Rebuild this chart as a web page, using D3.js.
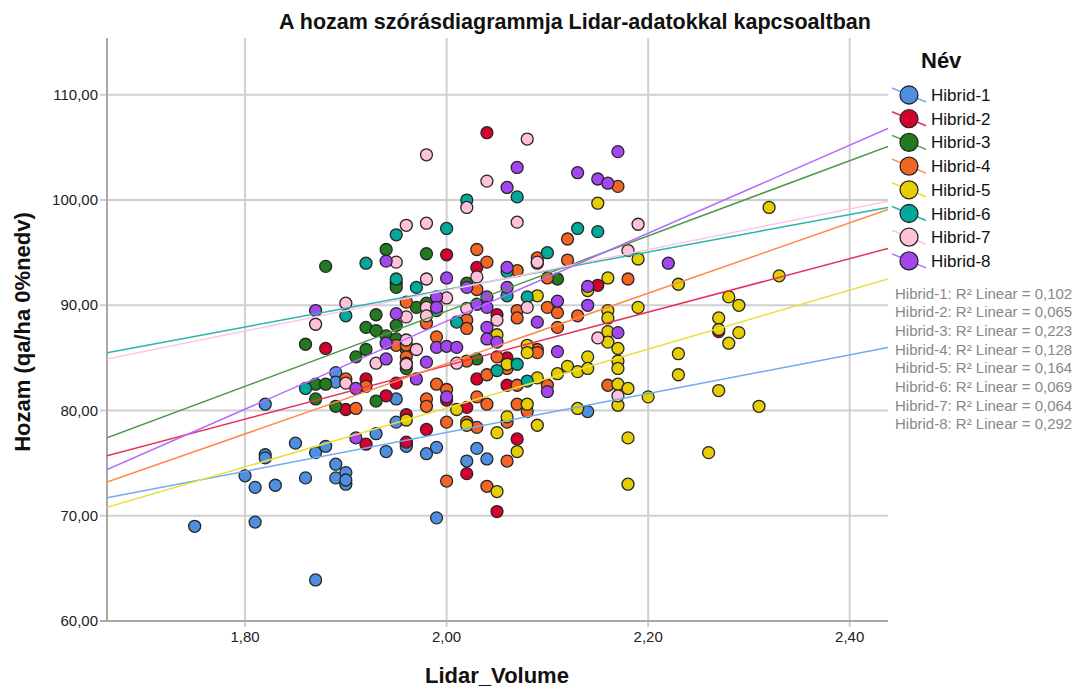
<!DOCTYPE html>
<html><head><meta charset="utf-8">
<script src="https://cdn.jsdelivr.net/npm/d3@7/dist/d3.min.js"></script>
<style>body{margin:0;background:#fff}text{font-family:"Liberation Sans",Arial,sans-serif}</style>
</head><body><svg id="c" width="1077" height="688"></svg>
<script>
const seriesNames = ["Hibrid-1","Hibrid-2","Hibrid-3","Hibrid-4","Hibrid-5","Hibrid-6","Hibrid-7","Hibrid-8"];
const pointColors = ["#4f8fe0","#d5002d","#237a1f","#f26522","#e6cf00","#00a99a","#ffc0da","#a346ef"];
const lineColors  = ["#72aaf2","#e8305c","#4c9a48","#ff874a","#ebde3e","#26b5ab","#ffc6e2","#b468ff"];
const r2Values = ["0,102","0,065","0,223","0,128","0,164","0,069","0,064","0,292"];

const hibrid1 = [[1.75,69.0],[1.80,73.8],[1.81,72.7],[1.81,69.4],[1.82,80.6],[1.82,75.8],[1.82,75.5],[1.83,72.9],[1.85,76.9],[1.86,73.6],[1.87,76.0],[1.87,63.9],[1.88,76.6],[1.89,83.6],[1.89,82.7],[1.89,74.9],[1.89,73.6],[1.90,74.1],[1.90,73.0],[1.90,73.4],[1.93,77.8],[1.94,76.1],[1.95,81.1],[1.95,78.9],[1.96,76.9],[1.96,76.6],[1.98,75.9],[1.99,76.5],[1.99,69.8],[2.02,75.2],[2.03,76.4],[2.04,75.4],[2.14,79.9]];
const hibrid2 = [[1.88,85.9],[1.90,80.1],[1.92,83.0],[1.92,76.8],[1.94,81.4],[1.95,82.6],[1.96,79.6],[1.96,77.0],[1.98,78.2],[2.00,94.8],[2.00,81.0],[2.02,80.3],[2.02,74.0],[2.03,93.6],[2.03,83.0],[2.04,106.4],[2.05,89.1],[2.05,70.4],[2.06,85.0],[2.06,82.4],[2.07,77.3],[2.15,91.9],[2.27,87.5]];
const hibrid3 = [[1.86,86.3],[1.87,82.5],[1.87,81.1],[1.88,93.7],[1.88,82.5],[1.89,80.4],[1.91,85.1],[1.92,87.9],[1.92,85.8],[1.93,89.1],[1.93,87.6],[1.93,80.9],[1.94,95.3],[1.94,87.1],[1.95,92.1],[1.95,91.7],[1.95,88.1],[1.95,86.8],[1.96,85.8],[1.96,84.0],[1.97,89.8],[1.98,94.9],[1.98,90.2],[2.02,92.1],[2.03,84.9],[2.11,92.5]];
const hibrid4 = [[1.90,83.0],[1.91,80.2],[1.92,82.3],[1.95,86.2],[1.96,90.3],[1.96,86.2],[1.96,85.1],[1.96,84.5],[1.98,88.3],[1.98,81.1],[1.98,80.4],[1.99,87.0],[1.99,82.5],[2.00,82.0],[2.00,78.9],[2.00,73.3],[2.02,88.6],[2.02,87.8],[2.02,84.7],[2.02,78.9],[2.03,95.3],[2.03,91.5],[2.03,81.3],[2.03,78.4],[2.04,94.1],[2.04,83.4],[2.04,80.6],[2.04,72.8],[2.05,85.1],[2.06,84.0],[2.06,78.9],[2.06,75.2],[2.07,93.3],[2.07,89.5],[2.07,88.8],[2.07,82.4],[2.07,80.6],[2.08,79.9],[2.09,94.5],[2.09,94.0],[2.09,85.8],[2.09,85.5],[2.10,92.6],[2.10,89.8],[2.10,82.4],[2.11,89.3],[2.11,87.9],[2.12,96.3],[2.12,94.3],[2.13,89.0],[2.16,82.4],[2.17,101.3],[2.18,92.5]];
const hibrid5 = [[1.96,79.1],[2.01,80.1],[2.02,78.6],[2.05,87.2],[2.05,77.9],[2.05,72.3],[2.06,84.4],[2.06,79.4],[2.07,76.1],[2.08,86.2],[2.08,85.5],[2.08,80.6],[2.09,90.9],[2.09,83.1],[2.09,78.6],[2.11,83.5],[2.12,84.2],[2.13,83.7],[2.13,80.2],[2.14,91.4],[2.14,85.1],[2.14,84.0],[2.15,99.7],[2.16,92.6],[2.16,89.5],[2.16,88.8],[2.16,87.5],[2.16,86.5],[2.17,85.9],[2.17,84.7],[2.17,84.0],[2.17,82.5],[2.17,80.5],[2.18,82.1],[2.18,77.4],[2.18,73.0],[2.19,94.4],[2.19,89.8],[2.20,81.3],[2.23,92.0],[2.23,85.4],[2.23,83.4],[2.26,76.0],[2.27,88.8],[2.27,87.7],[2.27,81.9],[2.28,90.8],[2.28,86.4],[2.29,90.0],[2.29,87.4],[2.31,80.4],[2.32,99.3],[2.33,92.8]];
const hibrid6 = [[1.86,82.1],[1.90,89.0],[1.92,94.0],[1.95,96.7],[1.95,92.5],[1.97,91.7],[1.99,89.5],[2.00,97.3],[2.01,88.4],[2.02,100.0],[2.05,83.8],[2.06,93.2],[2.06,90.9],[2.07,100.3],[2.07,84.4],[2.08,90.8],[2.08,82.8],[2.10,95.0],[2.13,97.3],[2.15,97.0]];
const hibrid7 = [[1.87,88.2],[1.90,90.2],[1.90,82.6],[1.93,84.5],[1.95,94.1],[1.96,97.6],[1.96,88.9],[1.96,86.7],[1.96,84.4],[1.97,85.8],[1.98,104.3],[1.98,97.8],[1.98,92.5],[1.98,89.8],[1.98,89.0],[2.00,90.7],[2.01,84.5],[2.02,99.3],[2.02,89.7],[2.03,92.7],[2.04,101.8],[2.05,88.6],[2.07,97.9],[2.08,105.8],[2.08,89.8],[2.09,94.1],[2.15,86.9],[2.17,81.4],[2.18,95.2],[2.19,97.7]];
const hibrid8 = [[1.87,89.5],[1.91,82.1],[1.91,77.4],[1.94,94.2],[1.94,86.4],[1.94,84.9],[1.95,89.2],[1.97,83.0],[1.98,84.6],[1.99,90.8],[1.99,89.8],[1.99,86.0],[2.00,92.6],[2.00,86.1],[2.00,81.3],[2.01,86.0],[2.02,91.7],[2.03,90.1],[2.04,90.8],[2.04,89.8],[2.04,87.9],[2.04,86.8],[2.05,86.5],[2.06,101.2],[2.06,93.6],[2.06,91.7],[2.07,103.1],[2.09,88.4],[2.10,81.8],[2.11,90.4],[2.11,85.6],[2.13,102.6],[2.14,91.8],[2.14,90.0],[2.15,102.0],[2.16,101.6],[2.17,104.6],[2.17,87.4],[2.22,94.0]];
const seriesData = [hibrid1,hibrid2,hibrid3,hibrid4,hibrid5,hibrid6,hibrid7,hibrid8];

// fit line values at the left and right ends of the x range
const fitX = [1.663, 2.438];
const fitLeft  = [71.7, 75.7, 77.4, 73.2, 70.8, 85.5, 84.9, 74.4];
const fitRight = [86.0, 95.4, 105.1, 99.1, 92.5, 99.3, 99.9, 106.8];

const xTicks = [1.8, 2.0, 2.2, 2.4];
const yTicks = [60, 70, 80, 90, 100, 110];

const svg = d3.select("#c");
const x = d3.scaleLinear().domain([1.663, 2.438]).range([107, 888]);
const y = d3.scaleLinear().domain([60, 115.4]).range([621, 38]);
const fmt = v => d3.format(".2f")(v).replace(".", ",");

// gridlines
const g = svg.append("g");
g.selectAll(".hg").data(yTicks.slice(1)).join("line")
  .attr("x1", 100).attr("x2", 888).attr("y1", d => y(d)).attr("y2", d => y(d))
  .attr("stroke", "#cfcfcf").attr("stroke-width", 2);
g.selectAll(".vg").data(xTicks).join("line")
  .attr("x1", d => x(d)).attr("x2", d => x(d)).attr("y1", 38).attr("y2", 627)
  .attr("stroke", "#cfcfcf").attr("stroke-width", 2);
// axes lines
svg.append("line").attr("x1", 107).attr("x2", 107).attr("y1", 38).attr("y2", 621).attr("stroke", "#a8a8a8").attr("stroke-width", 2);
svg.append("line").attr("x1", 100).attr("x2", 888).attr("y1", y(60)).attr("y2", y(60)).attr("stroke", "#a8a8a8").attr("stroke-width", 2);

// tick labels
svg.selectAll(".yl").data(yTicks).join("text")
  .attr("x", 98).attr("y", d => y(d) + 5).attr("text-anchor", "end")
  .attr("font-size", 15).attr("fill", "#222").text(fmt);
svg.selectAll(".xl").data(xTicks).join("text")
  .attr("x", d => x(d)).attr("y", 642).attr("text-anchor", "middle")
  .attr("font-size", 15).attr("fill", "#222").text(fmt);

// axis titles
svg.append("text").attr("x", 497).attr("y", 683).attr("text-anchor", "middle")
  .attr("font-size", 22).attr("font-weight", "bold").attr("fill", "#111").text("Lidar_Volume");
svg.append("text").attr("transform", "translate(30,332) rotate(-90)").attr("text-anchor", "middle")
  .attr("font-size", 22).attr("font-weight", "bold").attr("fill", "#111").text("Hozam (qa/ha 0%nedv)");
svg.append("text").attr("x", 575).attr("y", 29).attr("text-anchor", "middle")
  .attr("font-size", 21.5).attr("font-weight", "bold").attr("fill", "#111")
  .text("A hozam szórásdiagrammja Lidar-adatokkal kapcsoaltban");

// points
svg.append("clipPath").attr("id", "plot").append("rect")
  .attr("x", 107).attr("y", 38).attr("width", 781).attr("height", 583);
const pts = svg.append("g");
seriesData.forEach((data, i) => {
  pts.append("g").selectAll("circle").data(data).join("circle")
    .attr("cx", d => x(d[0])).attr("cy", d => y(d[1])).attr("r", 6)
    .attr("fill", pointColors[i]).attr("stroke", "#262626").attr("stroke-width", 1.3);
});

// fit lines
const lg = svg.append("g").attr("clip-path", "url(#plot)");
seriesNames.forEach((n, i) => {
  lg.append("line").attr("x1", x(fitX[0])).attr("x2", x(fitX[1]))
    .attr("y1", y(fitLeft[i])).attr("y2", y(fitRight[i]))
    .attr("stroke", lineColors[i]).attr("stroke-width", 1.5);
});

// legend
svg.append("text").attr("x", 921).attr("y", 68).attr("font-size", 22).attr("font-weight", "bold").attr("fill", "#111").text("Név");
const leg = svg.append("g").selectAll("g").data(seriesNames).join("g")
  .attr("transform", (d, i) => `translate(909,${95 + i * 23.7})`);
leg.append("line").attr("x1", -17).attr("y1", -7).attr("x2", 17).attr("y2", 7)
  .attr("stroke", (d, i) => lineColors[i]).attr("stroke-width", 1.5);
leg.append("circle").attr("r", 9).attr("fill", (d, i) => pointColors[i]).attr("stroke", "#262626").attr("stroke-width", 1.3);
leg.append("text").attr("x", 22).attr("y", 6).attr("font-size", 17).attr("fill", "#111").text(d => d);

// R2 labels
svg.selectAll(".r2").data(seriesNames).join("text")
  .attr("x", 895).attr("y", (d, i) => 298.5 + i * 18.7)
  .attr("font-size", 15).attr("fill", "#888")
  .text((d, i) => `${d}: R² Linear = ${r2Values[i]}`);
</script></body></html>
